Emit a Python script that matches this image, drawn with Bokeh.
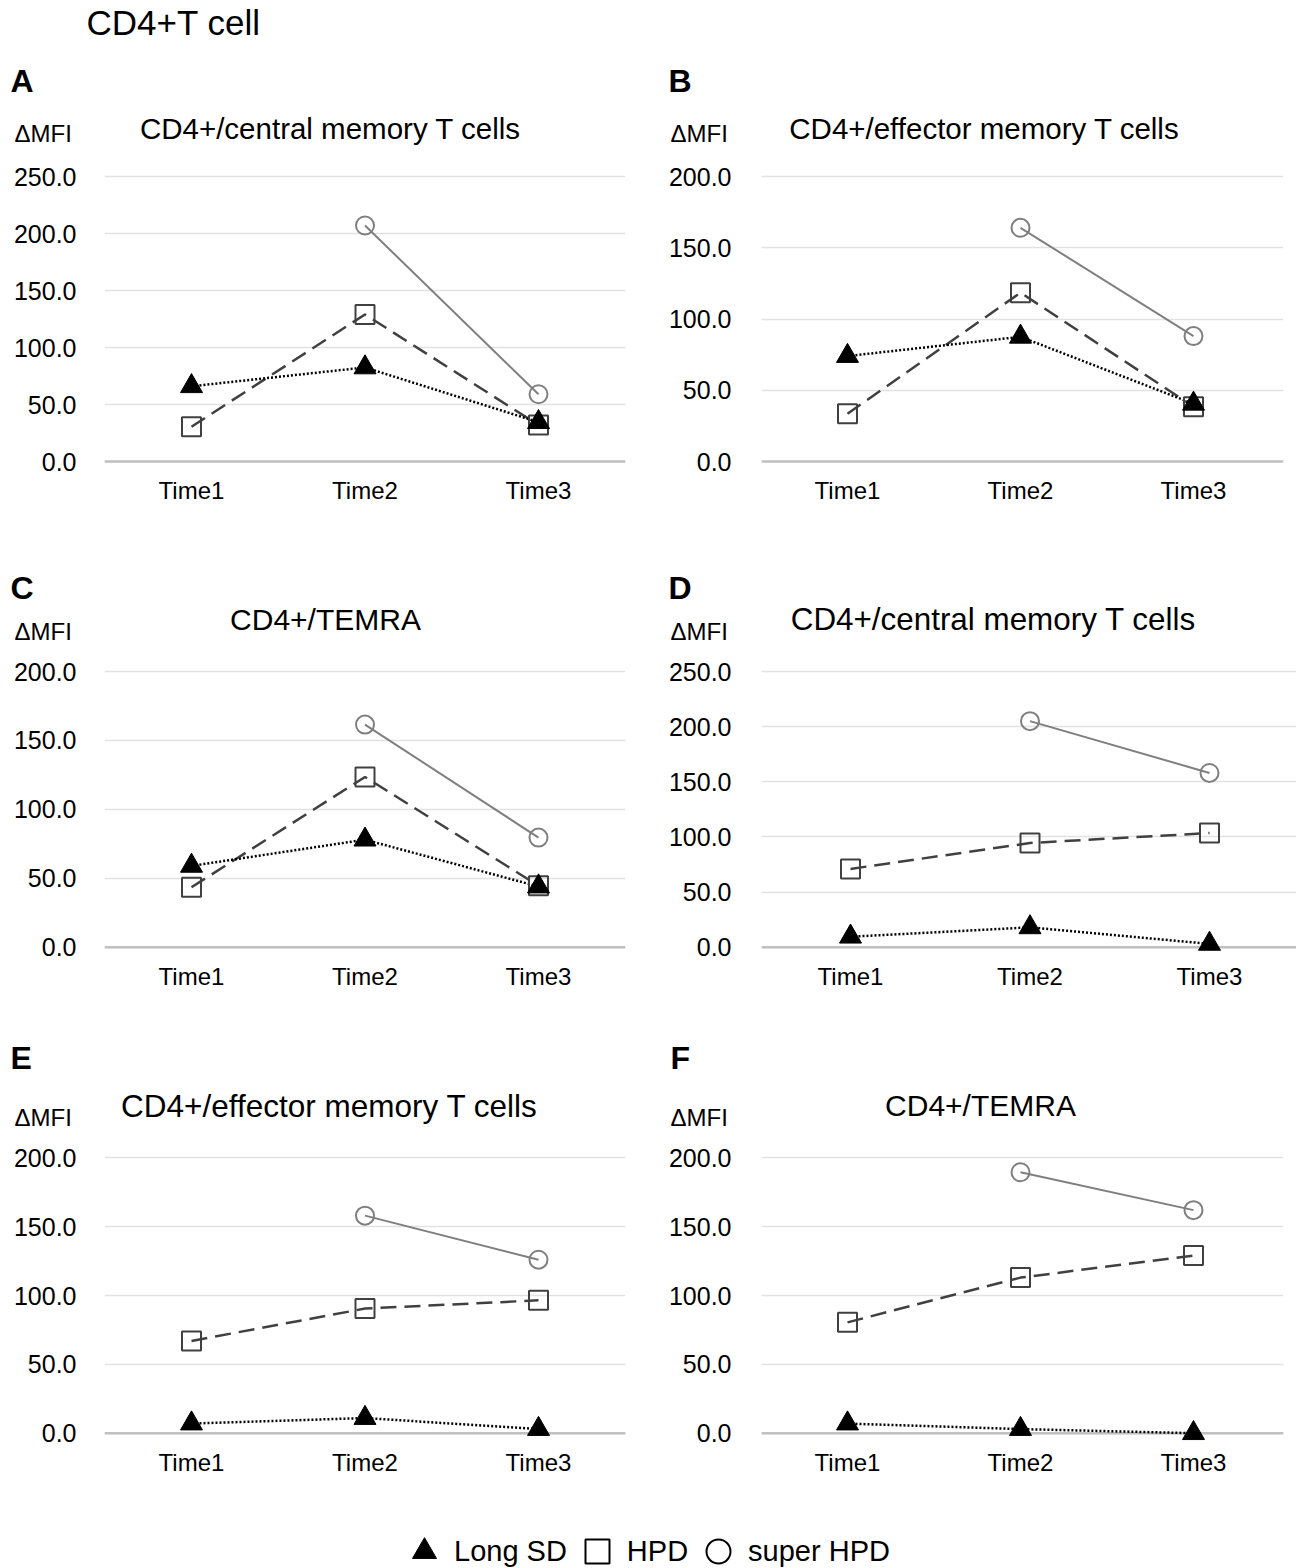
import math
from bokeh.plotting import figure
from bokeh.models import (Range1d, FixedTicker, PrintfTickFormatter, Label, Span,
                          Legend, LegendItem)
from bokeh.layouts import column, row
from bokeh.embed import file_html
from bokeh.resources import INLINE

NaN = float("nan")

# ---------------- data ----------------
times = ["Time1", "Time2", "Time3"]
x_pos = [1, 2, 3]
series_names = ["Long SD", "HPD", "super HPD"]
main_title = "CD4+T cell"
panel_letters = ["A", "B", "C", "D", "E", "F"]
panel_titles = ["CD4+/central memory T cells", "CD4+/effector memory T cells",
                "CD4+/TEMRA", "CD4+/central memory T cells",
                "CD4+/effector memory T cells", "CD4+/TEMRA"]
y_label = "\u0394MFI"
y_max = [250, 200, 200, 250, 200, 200]

long_sd_a = [66, 82.5, 34.5]
hpd_a = [30.5, 129, 32]
super_hpd_a = [NaN, 207, 59]

long_sd_b = [74, 87.5, 40.5]
hpd_b = [33.5, 118.5, 38.5]
super_hpd_b = [NaN, 164, 88]

long_sd_c = [59, 78, 44]
hpd_c = [43.5, 123.5, 44.5]
super_hpd_c = [NaN, 161.5, 79.5]

long_sd_d = [9.5, 18, 3]
hpd_d = [71, 94.5, 103.5]
super_hpd_d = [NaN, 205, 158]

long_sd_e = [7, 11, 3]
hpd_e = [67, 90.5, 96.5]
super_hpd_e = [NaN, 158, 126]

long_sd_f = [7, 3, 0]
hpd_f = [80.5, 113, 129]
super_hpd_f = [NaN, 189.5, 162]

panel_data = [
    (long_sd_a, hpd_a, super_hpd_a),
    (long_sd_b, hpd_b, super_hpd_b),
    (long_sd_c, hpd_c, super_hpd_c),
    (long_sd_d, hpd_d, super_hpd_d),
    (long_sd_e, hpd_e, super_hpd_e),
    (long_sd_f, hpd_f, super_hpd_f),
]

# ---------------- layout (page pixel geometry) ----------------
FONT = "Liberation Sans"
W = 1296
header_rows = [(0, 150), (520, 650), (1010, 1135)]
chart_rows = [(150, 520), (650, 1010), (1135, 1500)]
legend_row = (1500, 1568)

geom = [
    dict(cx0=0, cx1=648, fl=104, fr=625, ft=172, fb=475, c1=191, sp=173.5, z=461, t=176,
         letter=(10, 80), ylab=(14, 133), title=(330, 128), tsize=29.5, stand=28),
    dict(cx0=648, cx1=1296, fl=761, fr=1283, ft=172, fb=475, c1=847, sp=173, z=461, t=176,
         letter=(668, 80), ylab=(670, 133), title=(984, 128), tsize=29.5, stand=30),
    dict(cx0=0, cx1=648, fl=104, fr=625, ft=667, fb=961, c1=191, sp=173.5, z=946.7, t=671,
         letter=(10, 587), ylab=(14, 631), title=(325, 619), tsize=30, stand=28),
    dict(cx0=648, cx1=1296, fl=761, fr=1296, ft=667, fb=961, c1=850, sp=179.5, z=946.7, t=671,
         letter=(668, 587), ylab=(670, 631), title=(993, 619), tsize=31.4, stand=30),
    dict(cx0=0, cx1=648, fl=104, fr=625, ft=1153, fb=1447, c1=191, sp=173.5, z=1432.7, t=1157.3,
         letter=(10, 1057), ylab=(14, 1117), title=(329, 1105), tsize=31.5, stand=28),
    dict(cx0=648, cx1=1296, fl=761, fr=1283, ft=1153, fb=1447, c1=847, sp=173, z=1432.7, t=1157.3,
         letter=(670, 1057), ylab=(670, 1117), title=(980, 1105), tsize=30, stand=30),
]


def blank_fig(width, height):
    p = figure(width=width, height=height, x_range=Range1d(0, width), y_range=Range1d(0, height),
               x_axis_location=None, y_axis_location=None, min_border=0,
               output_backend="svg", toolbar_location=None)
    p.outline_line_color = None
    p.grid.visible = False
    p.background_fill_color = "white"
    p.border_fill_color = "white"
    return p


def add_text(p, cx0, cy1, pos, text, size, bold=False, align="left"):
    p.add_layout(Label(x=pos[0] - cx0, y=cy1 - pos[1], x_units="screen", y_units="screen",
                       text=text, text_font=FONT, text_font_size=f"{size}px",
                       text_font_style="bold" if bold else "normal",
                       text_align=align, text_baseline="middle", text_color="black"))


def make_header(i):
    g = geom[i]
    y0, y1 = header_rows[i // 2]
    h = blank_fig(g["cx1"] - g["cx0"], y1 - y0)
    add_text(h, g["cx0"], y1, g["letter"], panel_letters[i], 32, bold=True)
    add_text(h, g["cx0"], y1, g["ylab"], y_label, 24)
    add_text(h, g["cx0"], y1, g["title"], panel_titles[i], g["tsize"], align="center")
    if i == 0:
        add_text(h, g["cx0"], y1, (86, 22), main_title, 35)
    return h


def make_panel(i):
    g = geom[i]
    cy0, cy1 = chart_rows[i // 2]
    ymx = y_max[i]
    x0 = 1 - (g["c1"] - g["fl"]) / g["sp"]
    x1 = 1 + (g["fr"] - g["c1"]) / g["sp"]
    scale = (g["z"] - g["t"]) / ymx
    y0 = -(g["fb"] - g["z"]) / scale
    y1 = ymx + (g["t"] - g["ft"]) / scale
    p = figure(width=g["cx1"] - g["cx0"], height=cy1 - cy0,
               x_range=Range1d(x0, x1), y_range=Range1d(y0, y1),
               min_border_left=g["fl"] - g["cx0"], min_border_right=g["cx1"] - g["fr"],
               min_border_top=g["ft"] - cy0, min_border_bottom=cy1 - g["fb"],
               output_backend="svg", toolbar_location=None)
    p.outline_line_color = None
    p.background_fill_color = "white"
    p.border_fill_color = "white"

    yt = list(range(0, ymx + 1, 50))
    p.xaxis.ticker = FixedTicker(ticks=x_pos)
    p.xaxis.major_label_overrides = {x: t for x, t in zip(x_pos, times)}
    p.yaxis.ticker = FixedTicker(ticks=yt)
    p.yaxis.formatter = PrintfTickFormatter(format="%.1f")
    for ax in (p.xaxis, p.yaxis):
        ax.axis_line_color = None
        ax.major_tick_line_color = None
        ax.minor_tick_line_color = None
        ax.major_tick_out = 0
        ax.major_tick_in = 0
        ax.minor_tick_out = 0
        ax.major_label_text_font = FONT
        ax.major_label_text_color = "black"
    p.xaxis.major_label_text_font_size = "24px"
    p.yaxis.major_label_text_font_size = "25px"
    p.xaxis.major_label_standoff = 1
    p.yaxis.major_label_standoff = g["stand"]
    p.xgrid.visible = False
    p.ygrid.ticker = FixedTicker(ticks=yt)
    p.ygrid.grid_line_color = "#e2e2e2"
    p.ygrid.grid_line_width = 1.5
    p.add_layout(Span(location=0, dimension="width", line_color="#c0c0c0", line_width=2.5, level="underlay"))

    ls, hp, sh = panel_data[i]
    p.line(x_pos, sh, line_color="#7f7f7f", line_width=2)
    p.line(x_pos, hp, line_color="#404040", line_width=2.5, line_dash="16 8")
    p.line(x_pos, ls, line_color="black", line_width=2.5, line_dash="2 2")
    p.scatter(x_pos, sh, marker="circle", size=18, fill_alpha=0, line_color="#7f7f7f", line_width=2)
    p.scatter(x_pos, hp, marker="square", size=19, fill_alpha=0, line_color="#404040", line_width=2)
    p.scatter(x_pos, ls, marker="triangle", size=22, fill_color="black", line_color="black")
    return p


headers = [make_header(i) for i in range(6)]
panels = [make_panel(i) for i in range(6)]

# ---------------- legend strip ----------------
lh = legend_row[1] - legend_row[0]
lp = blank_fig(W, lh)
# legend renderers reuse panel A's series; they fall outside this strip's ranges and only feed the legend
r1 = lp.scatter(x_pos, long_sd_a, marker="triangle", size=24, fill_color="black", line_color="black")
r2 = lp.scatter(x_pos, hpd_a, marker="square", size=24, fill_alpha=0, line_color="black", line_width=2)
r3 = lp.scatter(x_pos, super_hpd_a, marker="circle", size=24, fill_alpha=0, line_color="black", line_width=2)
lp.x_range = Range1d(-10, -9)
lp.y_range = Range1d(-10, -9)
legend_center_y = 1551 - legend_row[0]
legend = Legend(items=[LegendItem(label=n, renderers=[r]) for n, r in zip(series_names, [r1, r2, r3])],
                orientation="horizontal", location=(394, lh - legend_center_y - 30),
                glyph_width=60, glyph_height=60, label_standoff=0, spacing=0,
                padding=0, margin=0, border_line_color=None, background_fill_alpha=0,
                label_text_font=FONT, label_text_font_size="29px", label_height=60,
                label_text_color="black")
lp.add_layout(legend, "center")

layout = column(row(headers[0], headers[1], spacing=0), row(panels[0], panels[1], spacing=0),
                row(headers[2], headers[3], spacing=0), row(panels[2], panels[3], spacing=0),
                row(headers[4], headers[5], spacing=0), row(panels[4], panels[5], spacing=0),
                lp, spacing=0)

open("out.html", "w").write(file_html(layout, INLINE))
